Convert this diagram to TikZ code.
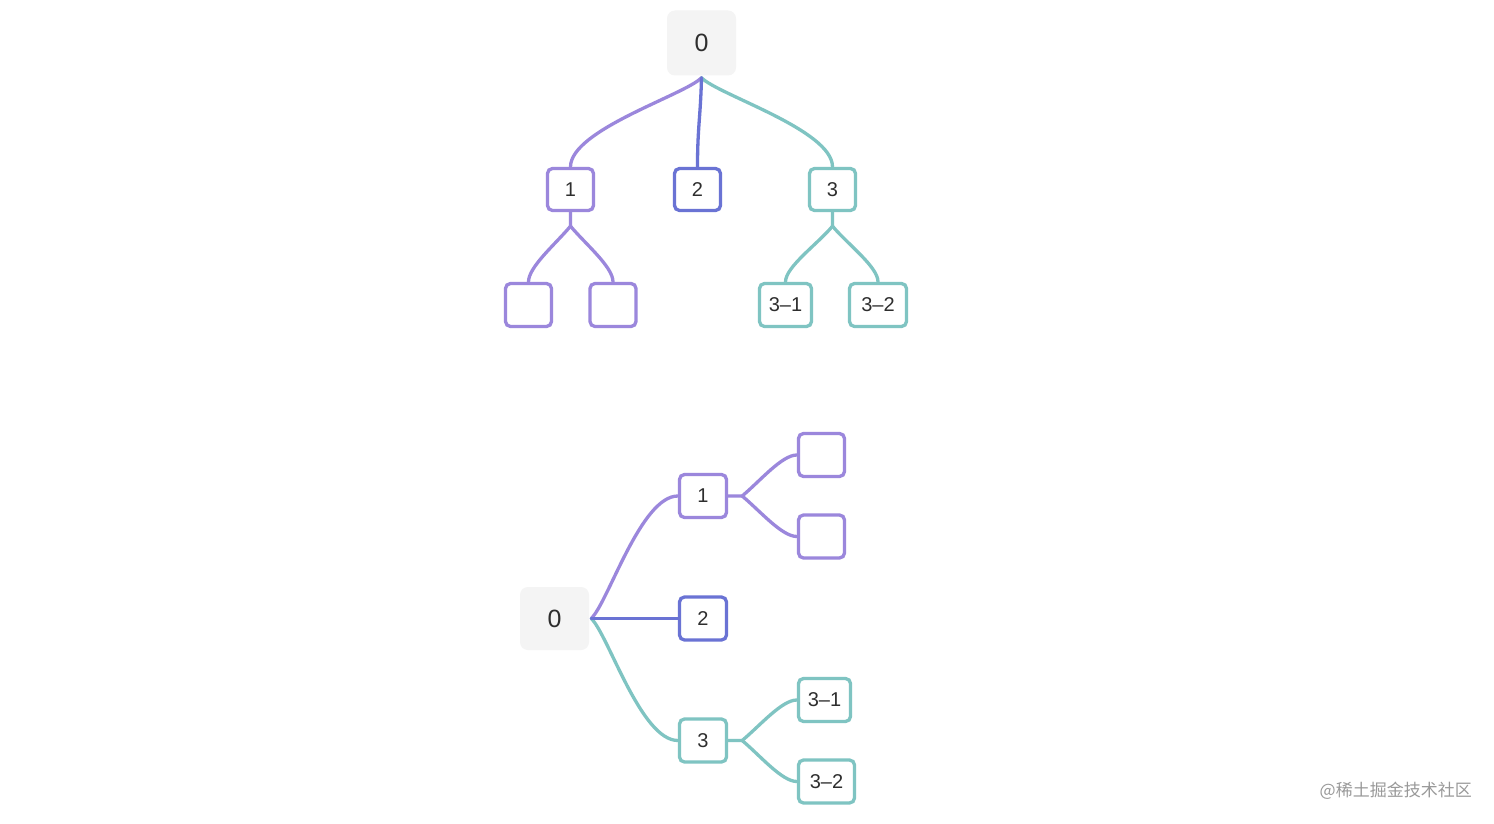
\documentclass[tikz,border=0pt]{standalone}
\usepackage{fontspec}
\setmainfont{Liberation Sans}
\newfontfamily\cjk{Noto Sans CJK SC}
\definecolor{cpurple}{HTML}{9B87DC}
\definecolor{cblue}{HTML}{6A73D4}
\definecolor{cteal}{HTML}{7FC4C2}
\definecolor{rootgray}{HTML}{F4F4F4}
\definecolor{txt}{HTML}{2E2E2E}
\begin{document}
\begin{tikzpicture}[x=1pt,y=-1pt,
  rootbox/.style={fill=rootgray,rounded corners=8pt,inner sep=0pt,minimum width=69pt,minimum height=65pt,text=txt,font=\fontsize{25}{25}\selectfont},
  kid/.style={draw=#1,line width=3.3pt,rounded corners=5pt,fill=white,inner sep=0pt,minimum width=46pt,minimum height=42pt,text=txt,font=\fontsize{20}{20}\selectfont},
  edge/.style={draw=#1,line width=3.3pt,line cap=round}]
\fill[white] (0,0) rectangle (1494,824);
\useasboundingbox (0,0) rectangle (1494,824);
% ---------- top tree ----------
\node[rootbox] (r) at (701.5,43) {0};
\node[kid=cpurple] (t1) at (570.5,189.5) {1};
\node[kid=cblue] (t2) at (697.5,189.5) {2};
\node[kid=cteal] (t3) at (832.5,189.5) {3};
\node[kid=cpurple,minimum height=43pt] (tl1) at (528.5,305) {};
\node[kid=cpurple,minimum height=43pt] (tl2) at (613,305) {};
\node[kid=cteal,minimum height=43pt,minimum width=52pt] (t31) at (785.5,305) {3–1};
\node[kid=cteal,minimum height=43pt,minimum width=57pt] (t32) at (878,305) {3–2};
\coordinate (rs) at ([yshift=-2pt]r.south);
\draw[edge=cpurple] (rs) .. controls +(-16,17) and +(0,-37) .. (t1.north);
\draw[edge=cteal] (rs) .. controls +(16,17) and +(0,-37) .. (t3.north);
\draw[edge=cblue] (rs) .. controls +(-1,40) and +(0,-40) .. (t2.north);
\coordinate (t1s) at ([yshift=-14pt]t1.south);
\coordinate (t3s) at ([yshift=-14pt]t3.south);
\draw[edge=cpurple] (t1.south) -- (t1s) .. controls +(-15,18) and +(0,-15) .. (tl1.north);
\draw[edge=cpurple] (t1s) .. controls +(15,18) and +(0,-15) .. (tl2.north);
\draw[edge=cteal] (t3.south) -- (t3s) .. controls +(-15,18) and +(0,-15) .. (t31.north);
\draw[edge=cteal] (t3s) .. controls +(15,18) and +(0,-15) .. (t32.north);
% ---------- bottom tree ----------
\node[rootbox,minimum height=63pt] (b) at (554.5,618.5) {0};
\node[kid=cpurple,minimum width=47pt,minimum height=43pt] (b1) at (703,496) {1};
\node[kid=cblue,minimum width=47pt,minimum height=43pt] (b2) at (703,618.5) {2};
\node[kid=cteal,minimum width=47pt,minimum height=43pt] (b3) at (703,740.5) {3};
\node[kid=cpurple,minimum height=43pt] (ba) at (821.5,455) {};
\node[kid=cpurple,minimum height=43pt] (bb) at (821.5,536.5) {};
\node[kid=cteal,minimum height=43pt,minimum width=52pt] (b31) at (824.5,700) {3–1};
\node[kid=cteal,minimum height=43pt,minimum width=56pt] (b32) at (826.5,781.5) {3–2};
\coordinate (be) at ([xshift=2pt]b.east);
\draw[edge=cpurple] (be) .. controls +(17,-16) and +(-37,0) .. (b1.west);
\draw[edge=cteal] (be) .. controls +(17,16) and +(-37,0) .. (b3.west);
\draw[edge=cblue] (be) -- (b2.west);
\coordinate (b1e) at ([xshift=14pt]b1.east);
\coordinate (b3e) at ([xshift=14pt]b3.east);
\draw[edge=cpurple] (b1.east) -- (b1e) .. controls +(18,-15) and +(-15,0) .. (ba.west);
\draw[edge=cpurple] (b1e) .. controls +(18,15) and +(-15,0) .. (bb.west);
\draw[edge=cteal] (b3.east) -- (b3e) .. controls +(18,-15) and +(-15,0) .. (b31.west);
\draw[edge=cteal] (b3e) .. controls +(18,15) and +(-15,0) .. (b32.west);
% ---------- watermark ----------
\node[anchor=east,text=black!40,font=\cjk\fontsize{17}{17}\selectfont,inner sep=0pt] (wm) at (1472,791) {@稀土掘金技术社区};
\end{tikzpicture}
\end{document}
